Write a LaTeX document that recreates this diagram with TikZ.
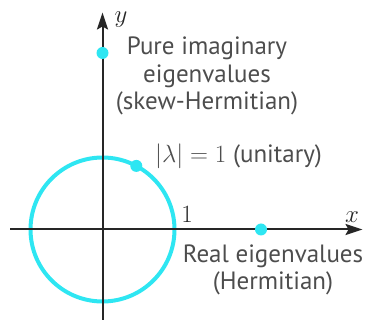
\documentclass[tikz,border=0pt]{standalone}
\usepackage{fontspec}
\usetikzlibrary{arrows.meta}
\newfontfamily\labelfont{PT Sans}
\definecolor{ringcyan}{HTML}{2EE6F2}
\definecolor{axisink}{HTML}{262626}
\definecolor{labelink}{HTML}{4D4D4D}
\newcommand{\eigdot}[3]{%
  \node[circle, fill=ringcyan, inner sep=0pt, minimum size=12pt] (#1) at (#2,#3) {};}

\begin{document}
\begin{tikzpicture}[x=1pt, y=1pt, text=labelink,
    font=\labelfont\fontsize{25}{27.5}\selectfont]
  \useasboundingbox (-102.5,-90.5) rectangle (263.5,229.5);
  \coordinate (o) at (0,0);
  \coordinate (xs) at (-92,0);
  \coordinate (xe) at (260,0);
  \coordinate (ys) at (0,-90.5);
  \coordinate (ye) at (0,217);
  \draw[ringcyan, line width=4pt] (o) circle[radius=72];
  \draw[-{Stealth[length=17pt, width=11pt, inset=3pt]}, axisink, line width=2pt] (xs) -- (xe);
  \draw[-{Stealth[length=17pt, width=11pt, inset=3pt]}, axisink, line width=2pt] (ys) -- (ye);
  \eigdot{imag}{0}{176.5}
  \eigdot{unit}{33.8}{63.6}
  \eigdot{real}{158.5}{0}
  % base anchor sits on the last line
  \node[anchor=base, align=center] (imagtxt) at (104.5,119.5)
    {Pure imaginary\\eigenvalues\\(skew-Hermitian)};
  \node[anchor=base west, inner sep=0pt] (unittxt) at (52.5,66.5)
    {$|\lambda| = 1$ (unitary)};
  \node[anchor=base, align=center] (realtxt) at (170.5,-60.5)
    {Real eigenvalues\\(Hermitian)};
  \node[axisink] (ylab) at (18.5,209.5) {$y$};
  \node[axisink] (xlab) at (249.5,12.5) {$x$};
  \node[axisink] (onelab) at (84.5,15.5) {$1$};
\end{tikzpicture}
\end{document}
